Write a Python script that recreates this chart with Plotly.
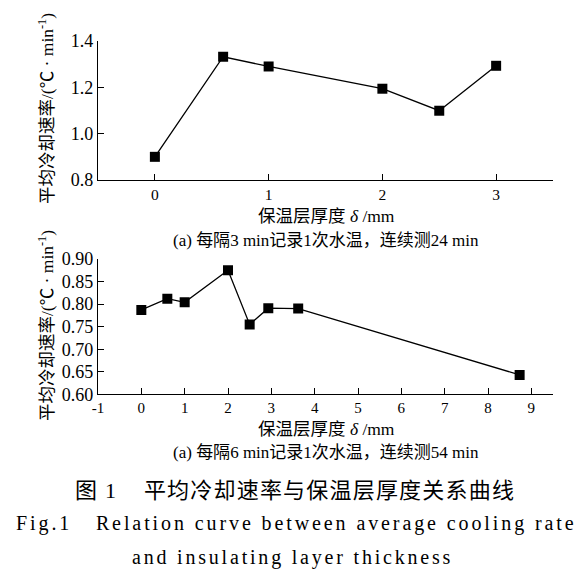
import plotly.graph_objects as go

W, H = 579, 578

# Data (a) every 3 min, 24 min
x_a = [0, 0.6, 1.0, 2.0, 2.5, 3.0]
y_a = [0.90, 1.332, 1.29, 1.194, 1.099, 1.293]
# Data (b) every 6 min, 54 min
x_b = [0, 0.6, 1.0, 2.0, 2.5, 2.93, 3.62, 8.73]
y_b = [0.787, 0.812, 0.804, 0.875, 0.755, 0.791, 0.790, 0.643]

xticks_a = [0, 1, 2, 3]
yticks_a = [0.8, 1.0, 1.2, 1.4]
yticklabels_a = ["0.8", "1.0", "1.2", "1.4"]
xticks_b = list(range(-1, 10))
xticklabels_b = [str(v) for v in xticks_b]
yticks_b = [0.60, 0.65, 0.70, 0.75, 0.80, 0.85, 0.90]
yticklabels_b = ["0.60", "0.65", "0.70", "0.75", "0.80", "0.85", "0.90"]

FONT = "'Liberation Serif', 'Noto Sans CJK SC'"

def px_x(p):
    return p / W

def px_y(p):
    return 1 - p / H

def cjk(s):
    return "<span style='font-family:Noto Sans CJK SC'>" + s + "</span>"

fig = go.Figure()
marker = dict(symbol="square", size=10, color="black")
line = dict(color="black", width=1.3)
fig.add_trace(go.Scatter(x=x_a, y=y_a, mode="lines+markers", marker=marker, line=line,
                         xaxis="x", yaxis="y", showlegend=False))
fig.add_trace(go.Scatter(x=x_b, y=y_b, mode="lines+markers", marker=marker, line=line,
                         xaxis="x2", yaxis="y2", showlegend=False))

def ax(size):
    return dict(showgrid=False, zeroline=False, showline=True, linecolor="black", linewidth=1.3,
                ticks="inside", ticklen=6, tickwidth=1.2, tickcolor="black",
                tickfont=dict(family=FONT, size=size, color="black"), mirror=False)

xdom = [px_x(98), px_x(553)]
fig.update_layout(
    width=W, height=H,
    margin=dict(l=0, r=0, t=0, b=0, autoexpand=False),
    paper_bgcolor="white", plot_bgcolor="white",
    xaxis=dict(domain=xdom, range=[-0.5, 3.5], tickvals=xticks_a, anchor="y", **ax(15.5)),
    yaxis=dict(domain=[px_y(180), px_y(41)], range=[0.8, 1.4], tickvals=yticks_a,
               ticktext=yticklabels_a, anchor="x", **ax(18)),
    xaxis2=dict(domain=xdom, range=[-1, 9.5], tickvals=xticks_b, ticktext=xticklabels_b,
                anchor="y2", **ax(15)),
    yaxis2=dict(domain=[px_y(394.3), px_y(259)], range=[0.6, 0.9], tickvals=yticks_b,
                ticktext=yticklabels_b, anchor="x2", **ax(18)),
)

ytitle = cjk("平均冷却速率") + "/(℃ · min<sup>-1</sup>)"
xtitle = cjk("保温层厚度") + " <i>δ</i> /mm"
sub_a = "(a) " + cjk("每隔") + "3 min" + cjk("记录") + "1" + cjk("次水温，连续测") + "24 min"
sub_b = "(a) " + cjk("每隔") + "6 min" + cjk("记录") + "1" + cjk("次水温，连续测") + "54 min"
ann = []
ann.append(dict(x=px_x(45), y=px_y(109), text=ytitle, textangle=-90, size=17.5))
ann.append(dict(x=px_x(45), y=px_y(326), text=ytitle, textangle=-90, size=17.5))
ann.append(dict(x=px_x(326), y=px_y(214), text=xtitle, size=17.5))
ann.append(dict(x=px_x(326), y=px_y(427.5), text=xtitle, size=17.5))
ann.append(dict(x=px_x(326), y=px_y(238), text=sub_a, size=17))
ann.append(dict(x=px_x(326), y=px_y(450.5), text=sub_b, size=17))
ann.append(dict(x=px_x(295), y=px_y(488),
                text="<span style='letter-spacing:1.2px'>" + cjk("图") + " 1&nbsp;&nbsp;&nbsp;&nbsp;"
                     + cjk("平均冷却速率与保温层厚度关系曲线") + "</span>",
                size=22))
ann.append(dict(x=px_x(296), y=px_y(523),
                text="<span style='letter-spacing:2.9px'>Fig.1&nbsp;&nbsp;&nbsp;Relation curve between average cooling rate</span>",
                size=20))
ann.append(dict(x=px_x(293), y=px_y(557),
                text="<span style='letter-spacing:2.8px'>and insulating layer thickness</span>", size=20))

for a in ann:
    size = a.pop("size", 16)
    fig.add_annotation(**a, xref="paper", yref="paper", showarrow=False,
                       xanchor="center", yanchor="middle",
                       font=dict(family=FONT, size=size, color="black"))

fig.write_html("out.html")
